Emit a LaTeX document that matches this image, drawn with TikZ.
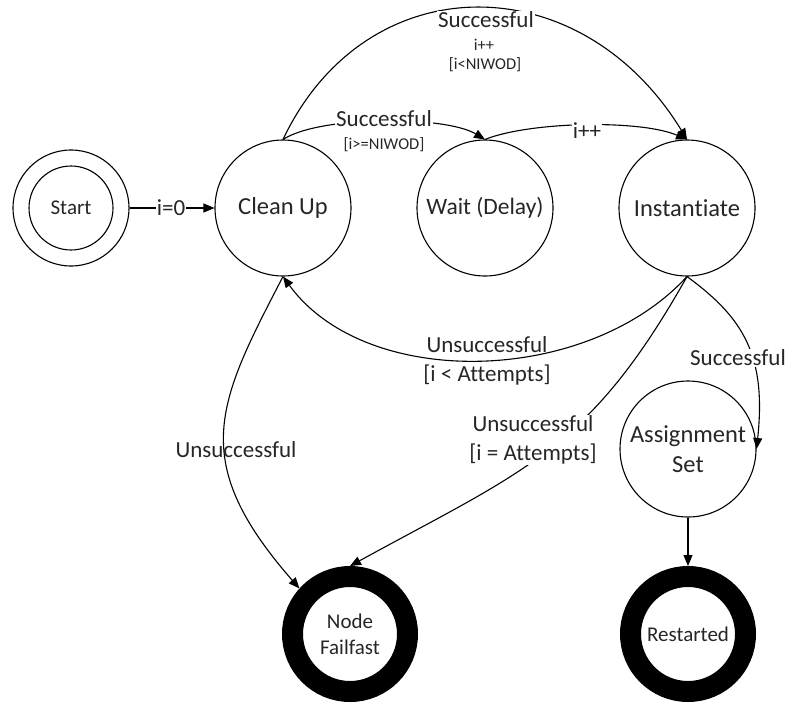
\documentclass[tikz,border=0pt]{standalone}
\usepackage{fontspec}
\setmainfont[Ligatures=NoCommon]{Carlito}
\usetikzlibrary{arrows.meta}
\definecolor{txt}{HTML}{262626}
\begin{document}
\begin{tikzpicture}[x=1pt,y=-1pt,
  state/.style={circle,draw,line width=1.1pt,minimum size=136pt,inner sep=0pt,
    font=\fontsize{24.5}{30}\selectfont,align=center,text=txt},
  final/.style={circle,draw,line width=21pt,minimum size=115pt,inner sep=0pt,
    font=\fontsize{21}{26}\selectfont,align=center,text=txt},
  conn/.style={line width=1.1pt,-{Triangle[length=11pt,width=9pt]}},
  lbl/.style={font=\fontsize{23}{29}\selectfont,text=txt,inner sep=1pt,align=center},
  small/.style={font=\fontsize{16.5}{20}\selectfont,text=txt,inner sep=1pt},
  blank/.style={fill=white},
]
\useasboundingbox (0,0) rectangle (786,704);

% states
\node[circle,draw,line width=1.1pt,minimum size=116pt] (start) at (71,208) {};
\node[circle,draw,line width=1.1pt,minimum size=84pt,inner sep=0pt,
      font=\fontsize{21}{25}\selectfont,text=txt] (startin) at (71,208) {Start};
\node[state] (clean) at (283,208) {Clean Up};
\node[state,font=\fontsize{23.5}{28}\selectfont] (wait) at (485,208) {Wait (Delay)};
\node[state] (inst) at (687,208) {Instantiate};
\node[state] (assign) at (688,449) {Assignment\\Set};
\node[final] (fail) at (350,634) {Node\\Failfast};
\node[final] (restart) at (688,634) {Restarted};

% transitions
\draw[conn] (start) -- (clean);
\node[lbl,blank] (l0) at (171,208) {i=0};

\draw[conn] (clean.north) .. controls +(37,-24) and +(-40,-24) .. (wait.north);
\node[lbl,blank] (l1) at (384,119) {Successful};
\node[small] (l1b) at (384,145) {[i>=NIWOD]};

\draw[conn] (clean.north) .. controls +(83,-175) and +(-107,-175) .. (inst.north);
\node[lbl,blank] (l2) at (486,20) {Successful};
\node[small] (l2b) at (484,45) {i++};
\node[small] (l2c) at (485,65) {[i<NIWOD]};

\draw[conn] (wait.north) .. controls +(45,-18) and +(-47,-20) .. (inst.north);
\node[lbl,blank] (l3) at (587,131) {i++};

\draw[conn] (inst.south) .. controls +(-100,109) and +(83,114) .. (clean.south);
\node[lbl] (l4) at (487,361) {Unsuccessful\\{}[i < Attempts]};

\draw[conn] (clean.south) .. controls +(-66,127) and +(-112,-128) .. (fail.138);
\node[lbl] (l5) at (236,450) {Unsuccessful};

\draw[conn] (inst.south) .. controls +(-98,174) and +(175,-96) .. (fail.north);
\node[lbl,blank] (l6) at (533,440) {Unsuccessful\\{}[i = Attempts]};

\draw[conn] (inst.south) .. controls +(56,41) and +(10,-94) .. (assign.east);
\node[lbl,blank] (l7) at (738,358) {Successful};

\draw[conn] (assign) -- (restart);
\end{tikzpicture}
\end{document}
